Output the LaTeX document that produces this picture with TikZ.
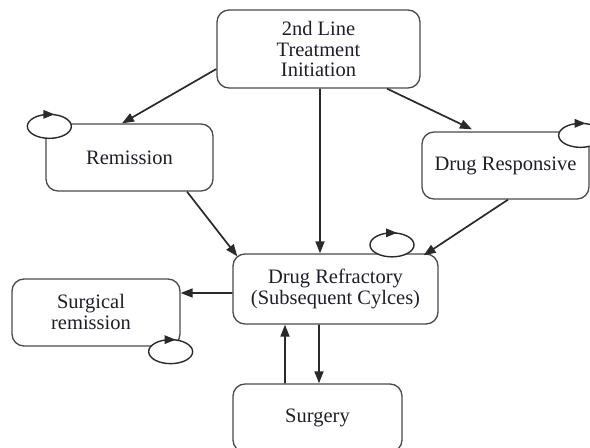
\documentclass[tikz,border=0pt]{standalone}
\usepackage{fontspec}
\setmainfont{Liberation Serif}
\usetikzlibrary{arrows.meta}
\definecolor{linegray}{HTML}{2A2A2A}
\definecolor{boxgray}{HTML}{4A4A4A}
\definecolor{txt}{HTML}{1E1E2A}
\begin{document}
\begin{tikzpicture}[x=1bp,y=-1bp,
  box/.style={draw=boxgray, line width=1.3bp, rounded corners=12bp, fill=white, align=center, text=txt, inner sep=0pt, font=\fontsize{20.5bp}{20.5bp}\selectfont},
  lbl/.style={align=center, text=txt, inner sep=0pt, font=\fontsize{20.5bp}{21.5bp}\selectfont},
  conn/.style={draw=linegray, line width=1.7bp, -{Triangle[length=12bp,width=9bp]}},
  loopc/.style={draw=linegray, line width=1.4bp, fill=white},
  looparr/.style={draw=linegray, line width=1.4bp, -{Triangle[length=11bp,width=8.5bp]}},
]
\useasboundingbox (0,0) rectangle (590,448);
\clip (0,0) rectangle (590,448);
\fill[white] (0,0) rectangle (590,448);

% boxes
\node[box, minimum width=203bp, minimum height=78bp] (top) at (318.5,49) {2nd Line\\Treatment\\Initiation};
\node[box, minimum width=167bp, minimum height=67bp] (rem) at (129.5,157.5) {Remission};
\node[box, minimum width=167bp, minimum height=67bp] (resp) at (505.5,165.5) {Drug Responsive};
\node[box, minimum width=205bp, minimum height=70bp] (refr) at (335.5,289) {Drug Refractory\\(Subsequent Cylces)};
\node[box, minimum width=168bp, minimum height=67bp] (srem) at (96,312.5) {};
\node[lbl] (sremt) at (91,312) {Surgical\\remission};
\node[box, minimum width=169bp, minimum height=68bp] (surg) at (317.5,418) {Surgery};

% self loops
\coordinate (remL) at ([shift={(4,3)}]rem.north west);
\coordinate (respL) at ([shift={(-9,4)}]resp.north east);
\coordinate (refrL) at ([shift={(56.5,-8.5)}]refr.north);
\coordinate (sremL) at ([shift={(-10,5)}]srem.south east);
\foreach \c in {remL,respL,refrL,sremL}{
  \draw[loopc] (\c) ellipse [x radius=22bp, y radius=12bp];
  \draw[looparr] ([shift={(-6,-12)}]\c) -- ([shift={(5,-12)}]\c);
}

% connectors
\draw[conn] ([yshift=-20bp]top.west) -- ([xshift=-7.5bp]rem.north);
\draw[conn] ([xshift=68.5bp]top.south) -- ([xshift=-33.5bp,yshift=2bp]resp.north);
\draw[conn] ([xshift=1.5bp]top.south) -- ([xshift=-15.5bp]refr.north);
\draw[conn] ([xshift=57.5bp]rem.south) -- ([xshift=5bp,yshift=-3bp]refr.north west);
\draw[conn] ([xshift=2.5bp]resp.south) -- ([xshift=-15bp,yshift=-2bp]refr.north east);
\draw[conn] ([yshift=-4bp]refr.west) -- ([yshift=19.5bp]srem.east);
\draw[conn] ([xshift=-32.5bp]surg.north) -- ([xshift=-50.5bp]refr.south);
\draw[conn] ([xshift=-16.5bp]refr.south) -- ([xshift=1.5bp]surg.north);
\end{tikzpicture}
\end{document}
